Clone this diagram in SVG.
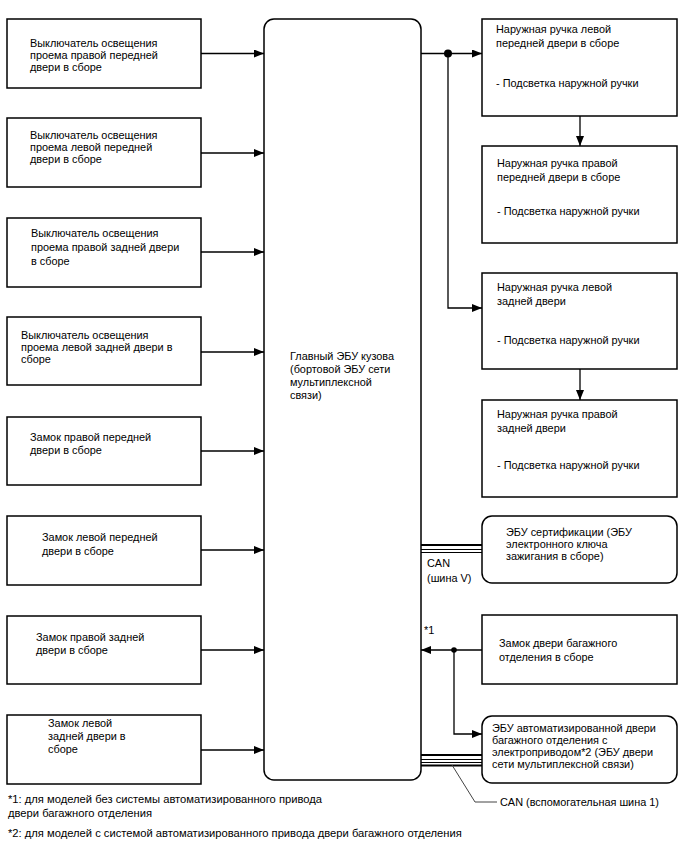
<svg xmlns="http://www.w3.org/2000/svg" width="688" height="852" viewBox="0 0 688 852">
<style>
.b{fill:#fff;stroke:#000;stroke-width:1.5}
.t{font-family:"Liberation Sans",Arial,sans-serif;font-size:10.9px;fill:#000}
.f{font-family:"Liberation Sans",Arial,sans-serif;font-size:11.2px;fill:#000}
.c{fill:none;stroke:#000;stroke-width:1.3}
</style>
<defs>
<marker id="ah" viewBox="0 0 10 8" refX="10" refY="4" markerWidth="10" markerHeight="8" markerUnits="userSpaceOnUse" orient="auto">
<path d="M0,0 L10,4 L0,8 Z" fill="#000"/>
</marker>
</defs>
<rect width="688" height="852" fill="#fff"/>

<g id="main"><rect class="b" x="264" y="19" width="157" height="761" rx="10"/>
<text class="t"><tspan x="290" y="360">Главный ЭБУ кузова</tspan><tspan x="290" y="373">(бортовой ЭБУ сети</tspan><tspan x="290" y="386">мультиплексной</tspan><tspan x="290" y="399">связи)</tspan></text></g>

<g id="L1"><rect class="b" x="7" y="19" width="194" height="69"/>
<text class="t"><tspan x="30" y="47">Выключатель освещения</tspan><tspan x="30" y="59">проема правой передней</tspan><tspan x="30" y="71">двери в сборе</tspan></text></g>
<g id="L2"><rect class="b" x="7" y="118" width="194" height="69"/>
<text class="t"><tspan x="30" y="139">Выключатель освещения</tspan><tspan x="30" y="151">проема левой передней</tspan><tspan x="30" y="163">двери в сборе</tspan></text></g>
<g id="L3"><rect class="b" x="7" y="218" width="194" height="69"/>
<text class="t"><tspan x="31" y="237">Выключатель освещения</tspan><tspan x="31" y="251">проема правой задней двери</tspan><tspan x="31" y="265">в сборе</tspan></text></g>
<g id="L4"><rect class="b" x="7" y="317" width="194" height="68"/>
<text class="t"><tspan x="21" y="339">Выключатель освещения</tspan><tspan x="21" y="351">проема левой задней двери в</tspan><tspan x="21" y="363">сборе</tspan></text></g>
<g id="L5"><rect class="b" x="7" y="417" width="194" height="68"/>
<text class="t"><tspan x="30" y="441">Замок правой передней</tspan><tspan x="30" y="454">двери в сборе</tspan></text></g>
<g id="L6"><rect class="b" x="7" y="516" width="194" height="69"/>
<text class="t"><tspan x="42" y="541">Замок левой передней</tspan><tspan x="42" y="555">двери в сборе</tspan></text></g>
<g id="L7"><rect class="b" x="7" y="616" width="194" height="68"/>
<text class="t"><tspan x="36" y="641">Замок правой задней</tspan><tspan x="36" y="654">двери в сборе</tspan></text></g>
<g id="L8"><rect class="b" x="7" y="715" width="194" height="69"/>
<text class="t"><tspan x="48" y="727">Замок левой</tspan><tspan x="48" y="740">задней двери в</tspan><tspan x="48" y="753">сборе</tspan></text></g>

<g id="R1"><rect class="b" x="482" y="19" width="195" height="97"/>
<text class="t"><tspan x="496" y="33">Наружная ручка левой</tspan><tspan x="496" y="47">передней двери в сборе</tspan><tspan x="496" y="87">- Подсветка наружной ручки</tspan></text></g>
<g id="R2"><rect class="b" x="482" y="146" width="195" height="97"/>
<text class="t"><tspan x="497" y="167">Наружная ручка правой</tspan><tspan x="497" y="181">передней двери в сборе</tspan><tspan x="497" y="215">- Подсветка наружной ручки</tspan></text></g>
<g id="R3"><rect class="b" x="482" y="273" width="195" height="96"/>
<text class="t"><tspan x="497" y="291">Наружная ручка левой</tspan><tspan x="497" y="305">задней двери</tspan><tspan x="497" y="344">- Подсветка наружной ручки</tspan></text></g>
<g id="R4"><rect class="b" x="482" y="400" width="195" height="97"/>
<text class="t"><tspan x="497" y="418">Наружная ручка правой</tspan><tspan x="497" y="432">задней двери</tspan><tspan x="497" y="469">- Подсветка наружной ручки</tspan></text></g>
<g id="cert"><rect class="b" x="482" y="516" width="195" height="67" rx="10"/>
<text class="t"><tspan x="506" y="536">ЭБУ сертификации (ЭБУ</tspan><tspan x="506" y="548">электронного ключа</tspan><tspan x="506" y="560">зажигания в сборе)</tspan></text></g>
<g id="trunk"><rect class="b" x="482" y="615" width="195" height="69"/>
<text class="t"><tspan x="499" y="647">Замок двери багажного</tspan><tspan x="499" y="661">отделения в сборе</tspan></text></g>
<g id="pdecu"><rect class="b" x="482" y="716" width="195" height="67" rx="10"/>
<text class="t"><tspan x="492" y="732">ЭБУ автоматизированной двери</tspan><tspan x="492" y="744">багажного отделения с</tspan><tspan x="492" y="756">электроприводом*2 (ЭБУ двери</tspan><tspan x="492" y="768">сети мультиплексной связи)</tspan></text></g>

<g id="connectors">
<line class="c" x1="201" y1="53.5" x2="264" y2="53.5" marker-end="url(#ah)"/>
<line class="c" x1="201" y1="153" x2="264" y2="153" marker-end="url(#ah)"/>
<line class="c" x1="201" y1="252" x2="264" y2="252" marker-end="url(#ah)"/>
<line class="c" x1="201" y1="352" x2="264" y2="352" marker-end="url(#ah)"/>
<line class="c" x1="201" y1="451" x2="264" y2="451" marker-end="url(#ah)"/>
<line class="c" x1="201" y1="550" x2="264" y2="550" marker-end="url(#ah)"/>
<line class="c" x1="201" y1="650" x2="264" y2="650" marker-end="url(#ah)"/>
<line class="c" x1="201" y1="750" x2="264" y2="750" marker-end="url(#ah)"/>
<line class="c" x1="421" y1="53.5" x2="482" y2="53.5" marker-end="url(#ah)"/>
<circle cx="448" cy="53.5" r="4" fill="#000"/>
<polyline class="c" points="448,53.5 448,308 482,308" marker-end="url(#ah)"/>
<line class="c" x1="580" y1="116" x2="580" y2="146" marker-end="url(#ah)"/>
<line class="c" x1="580" y1="369" x2="580" y2="400" marker-end="url(#ah)"/>
<line class="c" x1="482" y1="650" x2="421" y2="650" marker-end="url(#ah)"/>
<circle cx="454" cy="650" r="2.8" fill="#000"/>
<polyline class="c" points="454,650 454,734 482,734" marker-end="url(#ah)"/>
<g stroke="#000" fill="none">
<line x1="421" y1="545" x2="482" y2="545" stroke-width="2.2"/>
<line x1="421" y1="549.5" x2="482" y2="549.5" stroke-width="1"/>
<line x1="421" y1="552.5" x2="482" y2="552.5" stroke-width="1"/>
<line x1="421" y1="755" x2="482" y2="755" stroke-width="2.2"/>
<line x1="421" y1="759.5" x2="482" y2="759.5" stroke-width="1"/>
<line x1="421" y1="762.5" x2="482" y2="762.5" stroke-width="1"/>
<line x1="421" y1="765.5" x2="482" y2="765.5" stroke-width="2"/>
</g>
<polyline points="452,765 475,802 497,802" fill="none" stroke="#444" stroke-width="1"/>
</g>

<g id="labels">
<text class="t"><tspan x="427" y="567">CAN</tspan><tspan x="427" y="582">(шина V)</tspan></text>
<text class="t" x="424" y="634">*1</text>
<text class="t" x="500" y="806">CAN (вспомогательная шина 1)</text>
<text class="f"><tspan x="8" y="803">*1: для моделей без системы автоматизированного привода</tspan><tspan x="8" y="817">двери багажного отделения</tspan><tspan x="8" y="837">*2: для моделей с системой автоматизированного привода двери багажного отделения</tspan></text>
</g>
</svg>
